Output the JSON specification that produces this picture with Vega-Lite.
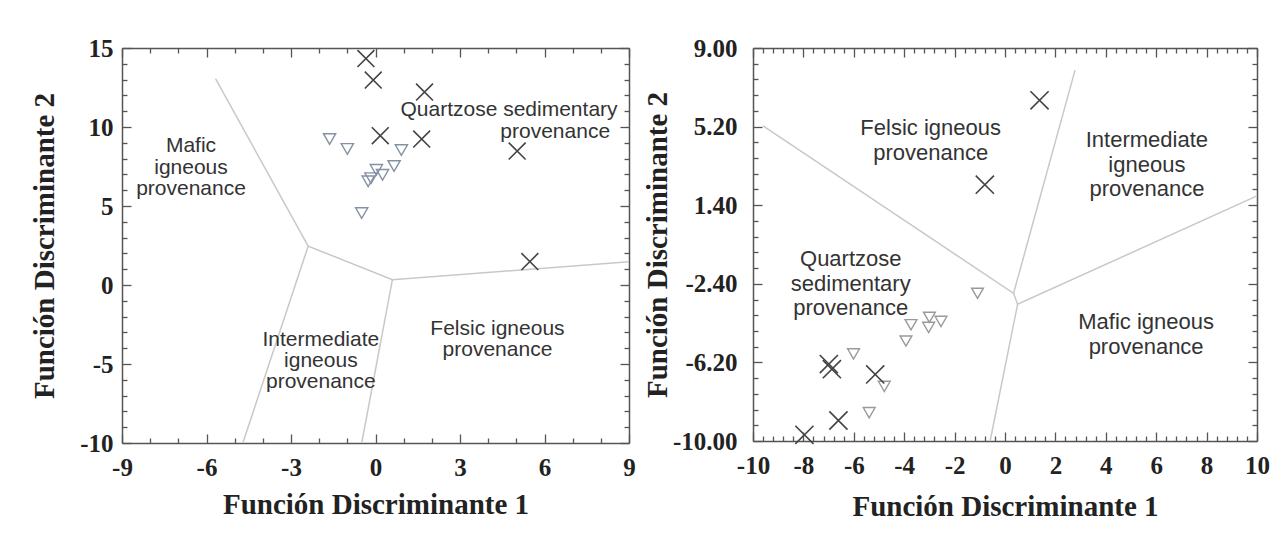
{
  "$schema": "https://vega.github.io/schema/vega-lite/v6.json",
  "background": "white",
  "padding": {"left": 30, "top": 36, "right": 0, "bottom": 0},
  "spacing": 7,
  "config": {
    "view": {"stroke": null},
    "axis": {
      "grid": false,
      "domainColor": "#555555",
      "domainWidth": 1.5,
      "tickColor": "#555555",
      "tickWidth": 1.3,
      "labelFont": "Liberation Serif",
      "labelFontWeight": "bold",
      "labelFontSize": 25,
      "labelColor": "#222222",
      "labelFlush": false,
      "labelOverlap": false,
      "labelBound": false,
      "titleFont": "Liberation Serif",
      "titleFontWeight": "bold",
      "titleFontSize": 29,
      "titleColor": "#222222"
    }
  },
  "datasets": {
    "leftLines": [
      {"seg": "a", "o": 1, "x": -5.68, "y": 13.06},
      {"seg": "a", "o": 2, "x": -2.39, "y": 2.46},
      {"seg": "a", "o": 3, "x": 0.6, "y": 0.34},
      {"seg": "a", "o": 4, "x": 9, "y": 1.47},
      {"seg": "b", "o": 1, "x": -2.39, "y": 2.46},
      {"seg": "b", "o": 2, "x": -4.71, "y": -10},
      {"seg": "c", "o": 1, "x": 0.6, "y": 0.34},
      {"seg": "c", "o": 2, "x": -0.49, "y": -10}
    ],
    "leftText": [
      {"label": "Mafic", "x": -6.55, "y": 8.79},
      {"label": "igneous", "x": -6.55, "y": 7.41},
      {"label": "provenance", "x": -6.55, "y": 6.1},
      {"label": "Quartzose sedimentary", "x": 4.74, "y": 11.05},
      {"label": "provenance", "x": 6.38, "y": 9.7},
      {"label": "Felsic igneous", "x": 4.33, "y": -2.78},
      {"label": "provenance", "x": 4.33, "y": -4.14},
      {"label": "Intermediate", "x": -1.94, "y": -3.47},
      {"label": "igneous", "x": -1.94, "y": -4.83},
      {"label": "provenance", "x": -1.94, "y": -6.16}
    ],
    "leftCross": [
      {"x": -0.34, "y": 14.33},
      {"x": -0.08, "y": 12.97},
      {"x": 1.74, "y": 12.21},
      {"x": 0.17, "y": 9.45},
      {"x": 1.64, "y": 9.24},
      {"x": 5.03, "y": 8.48},
      {"x": 5.48, "y": 1.48}
    ],
    "leftTri": [
      {"x": -1.63, "y": 9.24},
      {"x": -1.0, "y": 8.61},
      {"x": 0.92, "y": 8.54},
      {"x": 0.66, "y": 7.53},
      {"x": 0.03, "y": 7.29},
      {"x": 0.25, "y": 6.97},
      {"x": -0.16, "y": 6.76},
      {"x": -0.26, "y": 6.56},
      {"x": -0.49, "y": 4.55}
    ],
    "rightLines": [
      {"seg": "a", "o": 1, "x": -9.6, "y": 5.23},
      {"seg": "a", "o": 2, "x": 0.34, "y": -2.86},
      {"seg": "a", "o": 3, "x": 2.78, "y": 7.93},
      {"seg": "b", "o": 1, "x": 0.34, "y": -2.86},
      {"seg": "b", "o": 2, "x": 0.5, "y": -3.39},
      {"seg": "b", "o": 3, "x": 10, "y": 1.85},
      {"seg": "c", "o": 1, "x": 0.5, "y": -3.39},
      {"seg": "c", "o": 2, "x": -0.59, "y": -10}
    ],
    "rightText": [
      {"label": "Felsic igneous", "x": -2.95, "y": 5.12},
      {"label": "provenance", "x": -2.95, "y": 3.93},
      {"label": "Intermediate", "x": 5.63, "y": 4.54},
      {"label": "igneous", "x": 5.63, "y": 3.35},
      {"label": "provenance", "x": 5.63, "y": 2.18},
      {"label": "Quartzose", "x": -6.12, "y": -1.19},
      {"label": "sedimentary", "x": -6.12, "y": -2.4},
      {"label": "provenance", "x": -6.12, "y": -3.59},
      {"label": "Mafic igneous", "x": 5.6, "y": -4.25},
      {"label": "provenance", "x": 5.6, "y": -5.46}
    ],
    "rightCross": [
      {"x": 1.37, "y": 6.47},
      {"x": -0.8, "y": 2.39},
      {"x": -6.99, "y": -6.28},
      {"x": -6.87, "y": -6.53},
      {"x": -5.15, "y": -6.78},
      {"x": -6.61, "y": -9.01},
      {"x": -7.96, "y": -9.7}
    ],
    "rightTri": [
      {"x": -1.09, "y": -2.86},
      {"x": -3.0, "y": -4.02},
      {"x": -2.54, "y": -4.22},
      {"x": -3.73, "y": -4.38},
      {"x": -3.03, "y": -4.51},
      {"x": -3.93, "y": -5.17},
      {"x": -6.01, "y": -5.79},
      {"x": -4.79, "y": -7.36},
      {"x": -5.39, "y": -8.63}
    ]
  },
  "hconcat": [
    {
      "width": 507,
      "height": 395,
      "resolve": {"axis": {"x": "independent", "y": "independent"}},
      "layer": [
        {
          "data": {"name": "leftLines"},
          "mark": {"type": "line", "color": "#c8c8c8", "strokeWidth": 1.5},
          "encoding": {
            "x": {
              "field": "x", "type": "quantitative",
              "scale": {"domain": [-9, 9], "nice": false, "zero": false},
              "axis": {
                "orient": "bottom",
                "values": [-9, -6, -3, 0, 3, 6, 9],
                "labelExpr": "'' + datum.value",
                "tickSize": -9,
                "labelPadding": 21,
                "title": "Función Discriminante 1",
                "titlePadding": 10
              }
            },
            "y": {
              "field": "y", "type": "quantitative",
              "scale": {"domain": [-10, 15], "nice": false, "zero": false},
              "axis": {
                "orient": "left",
                "values": [-10, -5, 0, 5, 10, 15],
                "labelExpr": "'' + datum.value",
                "tickSize": -9,
                "labelPadding": 18,
                "title": "Función  Discriminante 2",
                "titlePadding": 20
              }
            },
            "detail": {"field": "seg"},
            "order": {"field": "o", "type": "quantitative"}
          }
        },
        {
          "data": {"name": "leftText"},
          "mark": {"type": "text", "font": "Liberation Sans", "fontSize": 21, "color": "#333333", "align": "center", "baseline": "middle"},
          "encoding": {
            "x": {
              "field": "x", "type": "quantitative",
              "axis": {"orient": "bottom", "values": [-8, -7, -5, -4, -2, -1, 1, 2, 4, 5, 7, 8], "labels": false, "domain": false, "tickSize": -5, "title": null}
            },
            "y": {
              "field": "y", "type": "quantitative",
              "axis": {"orient": "left", "values": [-9, -8, -7, -6, -4, -3, -2, -1, 1, 2, 3, 4, 6, 7, 8, 9, 11, 12, 13, 14], "labels": false, "domain": false, "tickSize": -5, "title": null}
            },
            "text": {"field": "label"}
          }
        },
        {
          "data": {"name": "leftTri"},
          "mark": {"type": "point", "shape": "triangle-down", "filled": false, "size": 150, "stroke": "#8491a3", "strokeWidth": 1.4, "opacity": 1},
          "encoding": {
            "x": {
              "field": "x", "type": "quantitative",
              "axis": {"orient": "top", "values": [-9, -6, -3, 0, 3, 6, 9], "labels": false, "tickSize": -9, "title": null}
            },
            "y": {
              "field": "y", "type": "quantitative",
              "axis": {"orient": "right", "values": [-10, -5, 0, 5, 10, 15], "labels": false, "tickSize": -9, "title": null}
            }
          }
        },
        {
          "data": {"name": "leftCross"},
          "mark": {"type": "point", "shape": "M-1,-1L1,1M-1,1L1,-1", "filled": false, "size": 285, "stroke": "#444444", "strokeWidth": 1.6, "opacity": 1},
          "encoding": {
            "x": {
              "field": "x", "type": "quantitative",
              "axis": {"orient": "top", "values": [-8, -7, -5, -4, -2, -1, 1, 2, 4, 5, 7, 8], "labels": false, "domain": false, "tickSize": -5, "title": null}
            },
            "y": {
              "field": "y", "type": "quantitative",
              "axis": {"orient": "right", "values": [-9, -8, -7, -6, -4, -3, -2, -1, 1, 2, 3, 4, 6, 7, 8, 9, 11, 12, 13, 14], "labels": false, "domain": false, "tickSize": -5, "title": null}
            }
          }
        }
      ]
    },
    {
      "width": 504,
      "height": 393,
      "resolve": {"axis": {"x": "independent", "y": "independent"}},
      "layer": [
        {
          "data": {"name": "rightLines"},
          "mark": {"type": "line", "color": "#c8c8c8", "strokeWidth": 1.5},
          "encoding": {
            "x": {
              "field": "x", "type": "quantitative",
              "scale": {"domain": [-10, 10], "nice": false, "zero": false},
              "axis": {
                "orient": "bottom",
                "values": [-10, -8, -6, -4, -2, 0, 2, 4, 6, 8, 10],
                "labelExpr": "'' + datum.value",
                "tickSize": -9,
                "labelPadding": 21,
                "title": "Función Discriminante 1",
                "titlePadding": 14
              }
            },
            "y": {
              "field": "y", "type": "quantitative",
              "scale": {"domain": [-10, 9], "nice": false, "zero": false},
              "axis": {
                "orient": "left",
                "values": [-10, -6.2, -2.4, 1.4, 5.2, 9],
                "labelExpr": "replace(format(datum.value, '.2f'), '\u2212', '-')",
                "tickSize": -9,
                "labelPadding": 25,
                "title": "Función Discriminante 2",
                "titlePadding": 0
              }
            },
            "detail": {"field": "seg"},
            "order": {"field": "o", "type": "quantitative"}
          }
        },
        {
          "data": {"name": "rightText"},
          "mark": {"type": "text", "font": "Liberation Sans", "fontSize": 22, "color": "#333333", "align": "center", "baseline": "middle"},
          "encoding": {
            "x": {
              "field": "x", "type": "quantitative",
              "axis": {"orient": "bottom", "values": [-9.6, -9.2, -8.8, -8.4, -7.6, -7.2, -6.8, -6.4, -5.6, -5.2, -4.8, -4.4, -3.6, -3.2, -2.8, -2.4, -1.6, -1.2, -0.8, -0.4, 0.4, 0.8, 1.2, 1.6, 2.4, 2.8, 3.2, 3.6, 4.4, 4.8, 5.2, 5.6, 6.4, 6.8, 7.2, 7.6, 8.4, 8.8, 9.2, 9.6], "labels": false, "domain": false, "tickSize": -5, "title": null}
            },
            "y": {
              "field": "y", "type": "quantitative",
              "axis": {"orient": "left", "values": [-9.24, -8.48, -7.72, -6.96, -5.44, -4.68, -3.92, -3.16, -1.64, -0.88, -0.12, 0.64, 2.16, 2.92, 3.68, 4.44, 5.96, 6.72, 7.48, 8.24], "labels": false, "domain": false, "tickSize": -5, "title": null}
            },
            "text": {"field": "label"}
          }
        },
        {
          "data": {"name": "rightTri"},
          "mark": {"type": "point", "shape": "triangle-down", "filled": false, "size": 140, "stroke": "#9a9a9a", "strokeWidth": 1.4, "opacity": 1},
          "encoding": {
            "x": {
              "field": "x", "type": "quantitative",
              "axis": {"orient": "top", "values": [-10, -8, -6, -4, -2, 0, 2, 4, 6, 8, 10], "labels": false, "tickSize": -9, "title": null}
            },
            "y": {
              "field": "y", "type": "quantitative",
              "axis": {"orient": "right", "values": [-10, -6.2, -2.4, 1.4, 5.2, 9], "labels": false, "tickSize": -9, "title": null}
            }
          }
        },
        {
          "data": {"name": "rightCross"},
          "mark": {"type": "point", "shape": "M-1,-1L1,1M-1,1L1,-1", "filled": false, "size": 330, "stroke": "#444444", "strokeWidth": 1.6, "opacity": 1},
          "encoding": {
            "x": {
              "field": "x", "type": "quantitative",
              "axis": {"orient": "top", "values": [-9.6, -9.2, -8.8, -8.4, -7.6, -7.2, -6.8, -6.4, -5.6, -5.2, -4.8, -4.4, -3.6, -3.2, -2.8, -2.4, -1.6, -1.2, -0.8, -0.4, 0.4, 0.8, 1.2, 1.6, 2.4, 2.8, 3.2, 3.6, 4.4, 4.8, 5.2, 5.6, 6.4, 6.8, 7.2, 7.6, 8.4, 8.8, 9.2, 9.6], "labels": false, "domain": false, "tickSize": -5, "title": null}
            },
            "y": {
              "field": "y", "type": "quantitative",
              "axis": {"orient": "right", "values": [-9.24, -8.48, -7.72, -6.96, -5.44, -4.68, -3.92, -3.16, -1.64, -0.88, -0.12, 0.64, 2.16, 2.92, 3.68, 4.44, 5.96, 6.72, 7.48, 8.24], "labels": false, "domain": false, "tickSize": -5, "title": null}
            }
          }
        }
      ]
    }
  ]
}
